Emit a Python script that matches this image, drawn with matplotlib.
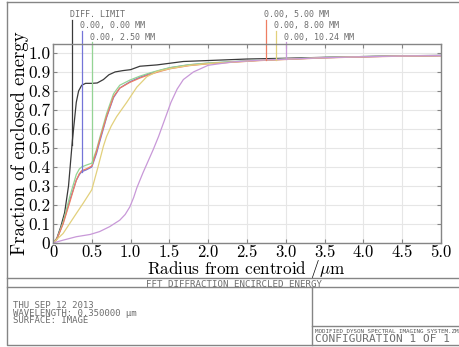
import numpy as np
import matplotlib
matplotlib.use("Agg")
import matplotlib.pyplot as plt

# encircled energy vs radius (um) for each field point
r_diff = [0, 0.05, 0.1, 0.15, 0.2, 0.25, 0.3, 0.33, 0.37, 0.42, 0.5, 0.57, 0.65, 0.72, 0.8, 0.9, 1.0,
          1.12, 1.34, 1.68, 2.0, 2.5, 3.0, 3.5, 4.0, 4.5, 5.0]
e_diff = [0, 0.025, 0.085, 0.16, 0.30, 0.54, 0.74, 0.80, 0.83, 0.84, 0.84, 0.842, 0.86, 0.885, 0.90, 0.907,
          0.912, 0.93, 0.937, 0.955, 0.96, 0.968, 0.972, 0.977, 0.981, 0.985, 0.987]

r_field = [0, 0.05, 0.13, 0.22, 0.3, 0.34, 0.37, 0.43, 0.5, 0.56, 0.6, 0.69, 0.78, 0.86, 0.99, 1.12, 1.25,
           1.38, 1.51, 1.75, 2.0, 2.67, 3.5, 4.0, 4.5, 5.0]
e_000 = [0, 0.02, 0.105, 0.23, 0.33, 0.36, 0.375, 0.385, 0.40, 0.47, 0.53, 0.66, 0.765, 0.815, 0.848, 0.872,
         0.892, 0.908, 0.922, 0.937, 0.946, 0.962, 0.975, 0.98, 0.984, 0.986]
e_250 = [0, 0.02, 0.11, 0.25, 0.36, 0.39, 0.40, 0.41, 0.42, 0.49, 0.55, 0.68, 0.785, 0.83, 0.857, 0.878,
         0.895, 0.91, 0.923, 0.938, 0.947, 0.963, 0.976, 0.981, 0.984, 0.986]
e_500 = [0, 0.02, 0.10, 0.22, 0.33, 0.365, 0.38, 0.39, 0.405, 0.48, 0.54, 0.665, 0.77, 0.815, 0.845, 0.868,
         0.887, 0.903, 0.917, 0.933, 0.943, 0.960, 0.974, 0.979, 0.983, 0.985]

r_800 = [0, 0.13, 0.3, 0.39, 0.5, 0.58, 0.65, 0.69, 0.75, 0.82, 0.95, 1.08, 1.21, 1.34, 1.51, 1.75, 2.0,
         2.67, 3.5, 4.0, 4.5, 5.0]
e_800 = [0, 0.05, 0.155, 0.21, 0.28, 0.40, 0.51, 0.56, 0.615, 0.665, 0.74, 0.82, 0.875, 0.902, 0.918,
         0.934, 0.944, 0.961, 0.975, 0.98, 0.984, 0.986]

r_1024 = [0, 0.13, 0.3, 0.48, 0.6, 0.73, 0.86, 0.93, 0.99, 1.04, 1.08, 1.16, 1.29, 1.36, 1.44, 1.52, 1.6,
          1.68, 1.81, 2.0, 2.32, 2.67, 3.0, 3.5, 4.0, 4.5, 5.0]
e_1024 = [0, 0.015, 0.033, 0.045, 0.06, 0.086, 0.12, 0.15, 0.19, 0.24, 0.29, 0.37, 0.49, 0.56, 0.65, 0.74,
          0.81, 0.86, 0.90, 0.935, 0.953, 0.962, 0.967, 0.975, 0.98, 0.984, 0.986]

labels = ["DIFF. LIMIT", "0.00, 0.00 MM", "0.00, 2.50 MM", "0.00, 5.00 MM", "0.00, 8.00 MM", "0.00, 10.24 MM"]
label_r = [0.245, 0.374, 0.5, 2.74, 2.87, 3.0]
colors = ["#3a3a3a", "#7474d8", "#94d494", "#ee7e62", "#e2d07c", "#c898d8"]

xticks = [0, 0.5, 1.0, 1.5, 2.0, 2.5, 3.0, 3.5, 4.0, 4.5, 5.0]
xtick_labels = ["0", "0.5", "1.0", "1.5", "2.0", "2.5", "3.0", "3.5", "4.0", "4.5", "5.0"]
yticks = [0, 0.1, 0.2, 0.3, 0.4, 0.5, 0.6, 0.7, 0.8, 0.9, 1.0]
ytick_labels = ["0", "0.1", "0.2", "0.3", "0.4", "0.5", "0.6", "0.7", "0.8", "0.9", "1.0"]

series = [(r_diff, e_diff), (r_field, e_000), (r_field, e_250), (r_field, e_500),
          (r_800, e_800), (r_1024, e_1024)]

W, H = 459, 347
gray = "#858585"
txt = "#6e6e6e"
mono = "DejaVu Sans Mono"
serif = ["cmr10", "DejaVu Serif"]
plt.rcParams["axes.formatter.use_mathtext"] = True
plt.rcParams["mathtext.fontset"] = "cm"

fig = plt.figure(figsize=(W / 100, H / 100), dpi=100)
fig.patch.set_facecolor("white")

# frame boxes drawn in pixel coordinates
frame = fig.add_axes([0, 0, 1, 1], zorder=-1)
frame.set_xlim(0, W)
frame.set_ylim(H, 0)
frame.axis("off")
fl = dict(color=gray, lw=1.0)
frame.plot([7, 7, 470, 470, 7], [2, 345, 345, 2, 2], **fl)
frame.plot([7, 470], [278, 278], **fl)
frame.plot([7, 470], [287, 287], **fl)
frame.plot([312, 312], [287, 345], **fl)
frame.plot([312, 470], [326, 326], **fl)

frame.text(234, 286.6, "FFT DIFFRACTION ENCIRCLED ENERGY", family=mono, fontsize=6.6,
           color=txt, ha="center", va="baseline")
frame.text(13, 308, "THU SEP 12 2013", family=mono, fontsize=6.5, color=txt, va="baseline")
frame.text(13, 315.5, "WAVELENGTH: 0.350000 µm", family=mono, fontsize=6.5, color=txt, va="baseline")
frame.text(13, 323, "SURFACE: IMAGE", family=mono, fontsize=6.5, color=txt, va="baseline")
frame.text(315, 333, "MODIFIED DYSON SPECTRAL IMAGING SYSTEM.ZMX", family=mono, fontsize=4.2,
           color="#555555", va="baseline")
frame.text(315, 342, "CONFIGURATION 1 OF 1", family=mono, fontsize=8, color=txt, va="baseline")

# main plot
ax = fig.add_axes([53 / W, 1 - 243 / H, 388 / W, 199 / H])
ax.set_facecolor("white")
for (r, e), c in zip(series, colors):
    ax.plot(r, e, color=c, lw=0.9)

ax.set_xlim(0, 5.0)
ax.set_ylim(0, 1.047)
ax.set_xticks(xticks)
ax.set_xticklabels(xtick_labels, family=serif, fontsize=12)
ax.set_yticks(yticks)
ax.set_yticklabels(ytick_labels, family=serif, fontsize=12.5)
ax.tick_params(direction="in", length=3, width=0.8, color=gray, top=True, right=True, pad=2)
ax.tick_params(axis="x", pad=1)
ax.grid(True, color="#e6e6e6", lw=0.8)
ax.set_axisbelow(True)
for s in ax.spines.values():
    s.set_color(gray)
    s.set_linewidth(1.0)

# field labels with leader lines down to each curve
v_text = [1.187, 1.129, 1.068]
v_top = [1.174, 1.116, 1.058]
for i, ((r, e), c, lab, rl) in enumerate(zip(series, colors, labels, label_r)):
    k = i % 3
    v = np.interp(rl, r, e)
    ax.plot([rl, rl], [v, v_top[k]], color=c, lw=0.9, clip_on=False)
    ax.text(rl - 0.026, v_text[k], lab, family=mono, fontsize=6, color=txt,
            va="baseline", ha="left", clip_on=False)

fig.text(20 / W, 1 - 143 / H, "Fraction of enclosed energy", family=serif, fontsize=13.5,
         rotation=90, ha="center", va="center")
fig.text(246 / W, 1 - 274.3 / H, r"Radius from centroid /$\mu$m", family=serif, fontsize=12.3,
         ha="center", va="baseline")

fig.savefig("out.png", dpi=100)
